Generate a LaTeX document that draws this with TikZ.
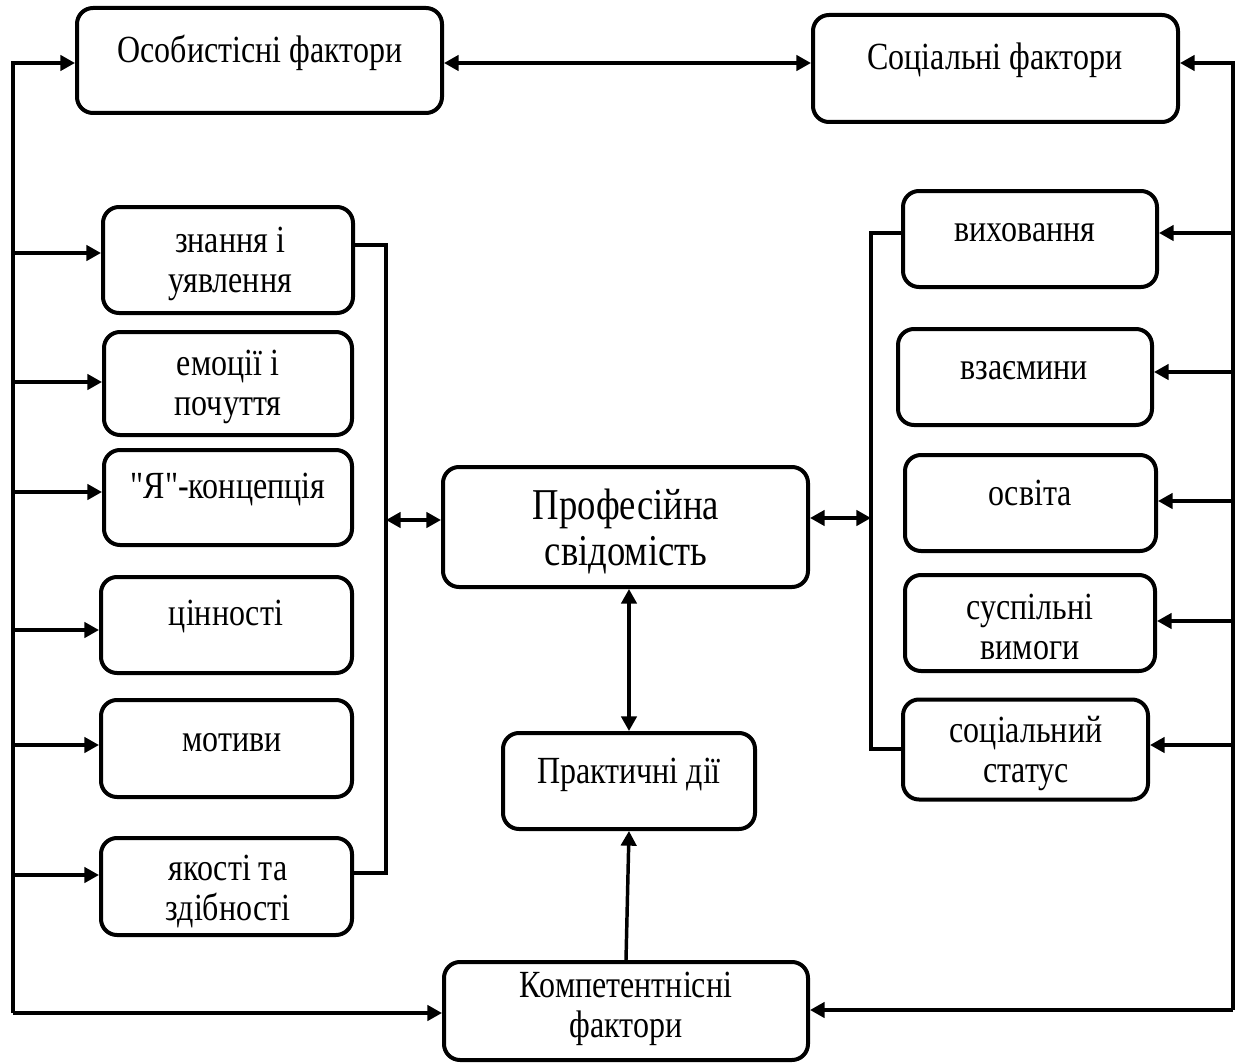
\documentclass[tikz,border=0pt]{standalone}
\usepackage{fontspec}
\usepackage{graphicx}
\setmainfont{Liberation Serif}
\usetikzlibrary{arrows.meta}

\newcommand{\tall}[1]{\scalebox{1}[1.2]{\begin{tabular}{@{}c@{}}#1\end{tabular}}}

\tikzset{every picture/.style={line width=0.75pt}}
\tikzset{
  box/.style={draw, line width=3pt, rounded corners=12pt, inner sep=0pt},
  txt/.style={align=center, font=\fontsize{24}{25}\selectfont, inner sep=0pt},
  bigtxt/.style={align=center, font=\fontsize{27.5}{28.75}\selectfont, inner sep=0pt},
  conn/.style={line width=2.6pt},
  brk/.style={line width=2.3pt},
  tip/.style={-{Triangle[length=11pt,width=11.5pt]}},
  both/.style={{Triangle[length=11pt,width=11.5pt]}-{Triangle[length=11pt,width=11.5pt]}},
}

\begin{document}
\begin{tikzpicture}[x=0.75pt,y=0.75pt,yscale=-1,xscale=1]
	\useasboundingbox (0,0) rectangle (1236,1063);

	%Rounded Rect [id:osob] 
	\node [box, minimum width=273.75pt, minimum height=78.75pt] (osob) at (259.5,60.5) {};
	%Rounded Rect [id:soc] 
	\node [box, minimum width=273.75pt, minimum height=80.25pt] (soc) at (995.5,68.5) {};
	%Rounded Rect [id:znan] 
	\node [box, minimum width=187.5pt, minimum height=79.5pt] (znan) at (228,260) {};
	%Rounded Rect [id:emoc] 
	\node [box, minimum width=186pt, minimum height=77.25pt] (emoc) at (228,383.5) {};
	%Rounded Rect [id:ya] 
	\node [box, minimum width=186pt, minimum height=71.25pt] (ya) at (228,497.5) {};
	%Rounded Rect [id:tsin] 
	\node [box, minimum width=188.25pt, minimum height=72pt] (tsin) at (226.5,625) {};
	%Rounded Rect [id:motyv] 
	\node [box, minimum width=188.25pt, minimum height=72.75pt] (motyv) at (226.5,748.5) {};
	%Rounded Rect [id:yakist] 
	\node [box, minimum width=188.25pt, minimum height=72.75pt] (yakist) at (226.5,886.5) {};
	%Rounded Rect [id:prof] 
	\node [box, minimum width=273.75pt, minimum height=90pt] (prof) at (625.5,527) {};
	%Rounded Rect [id:prak] 
	\node [box, minimum width=189pt, minimum height=72pt] (prak) at (629,781) {};
	%Rounded Rect [id:komp] 
	\node [box, minimum width=273pt, minimum height=73.5pt] (komp) at (626,1011) {};
	%Rounded Rect [id:vyh] 
	\node [box, minimum width=190.5pt, minimum height=72pt] (vyh) at (1030,239) {};
	%Rounded Rect [id:vzaem] 
	\node [box, minimum width=190.5pt, minimum height=72pt] (vzaem) at (1025,377) {};
	%Rounded Rect [id:osvita] 
	\node [box, minimum width=188.25pt, minimum height=72pt] (osvita) at (1030.5,503) {};
	%Rounded Rect [id:susp] 
	\node [box, minimum width=187.5pt, minimum height=72pt] (susp) at (1030,623) {};
	%Rounded Rect [id:sots] 
	\node [box, minimum width=183.75pt, minimum height=75pt] (sots) at (1025.5,749.5) {};

	%Straight Lines [id:left] 
	\coordinate (lt) at (13,63);
	\coordinate (lb) at (13,1013);
	\draw [conn, tip] (lb) -- (lt) -- (lt -| osob.west);
	\draw [conn, tip] (lb) -- (lb -| komp.west);
	%Straight Lines [id:right] 
	\coordinate (rt) at (1233,63);
	\coordinate (rb) at (1233,1010);
	\draw [conn, tip] (rb) -- (rt) -- (rt -| soc.east);
	\draw [conn, tip] (rb) -- (rb -| komp.east);
	%Straight Lines [id:top] 
	\draw [conn, both] (lt -| osob.east) -- (lt -| soc.west);

	%Straight Lines [id:l1] 
	\coordinate (l1) at (13,253);
	\draw [conn, tip] (l1) -- (l1 -| znan.west);
	%Straight Lines [id:l2] 
	\coordinate (l2) at (13,382);
	\draw [conn, tip] (l2) -- (l2 -| emoc.west);
	%Straight Lines [id:l3] 
	\coordinate (l3) at (13,492);
	\draw [conn, tip] (l3) -- (l3 -| ya.west);
	%Straight Lines [id:l4] 
	\coordinate (l4) at (13,630);
	\draw [conn, tip] (l4) -- (l4 -| tsin.west);
	%Straight Lines [id:l5] 
	\coordinate (l5) at (13,745);
	\draw [conn, tip] (l5) -- (l5 -| motyv.west);
	%Straight Lines [id:l6] 
	\coordinate (l6) at (13,875);
	\draw [conn, tip] (l6) -- (l6 -| yakist.west);

	%Straight Lines [id:r1] 
	\coordinate (r1) at (1233,233);
	\draw [conn, tip] (r1) -- (r1 -| vyh.east);
	%Straight Lines [id:r2] 
	\coordinate (r2) at (1233,372);
	\draw [conn, tip] (r2) -- (r2 -| vzaem.east);
	%Straight Lines [id:r3] 
	\coordinate (r3) at (1233,501);
	\draw [conn, tip] (r3) -- (r3 -| osvita.east);
	%Straight Lines [id:r4] 
	\coordinate (r4) at (1233,621);
	\draw [conn, tip] (r4) -- (r4 -| susp.east);
	%Straight Lines [id:r5] 
	\coordinate (r5) at (1233,745);
	\draw [conn, tip] (r5) -- (r5 -| sots.east);

	%Bracket Lines [id:lbrk] 
	\coordinate (lbt) at (386,245);
	\coordinate (lbb) at (386,873);
	\coordinate (lbm) at (386,520);
	\draw [brk] (lbt -| znan.east) -- (lbt) -- (lbb) -- (lbb -| yakist.east);
	\draw [conn, both] (lbm) -- (lbm -| prof.west);
	%Bracket Lines [id:rbrk] 
	\coordinate (rbt) at (871,233);
	\coordinate (rbb) at (871,749);
	\coordinate (rbm) at (871,518);
	\draw [brk] (rbt -| vyh.west) -- (rbt) -- (rbb) -- (rbb -| sots.west);
	\draw [conn, both] (rbm -| prof.east) -- (rbm);

	%Straight Lines [id:mid] 
	\draw [conn, both] (prak.north |- prof.south) -- (prak.north);
	\draw [conn, tip] (komp.north) -- (prak.south);

	% Text Node
	\node [txt] (osob-t) at (260,55) {\tall{Особистісні фактори}};
	% Text Node
	\node [txt] (soc-t) at (995,62) {\tall{Соціальні фактори}};
	% Text Node
	\node [txt] (znan-t) at (230,264) {\tall{знання і\\уявлення}};
	% Text Node
	\node [txt] (emoc-t) at (228,387) {\tall{емоції і\\почуття}};
	% Text Node
	\node [txt] (ya-t) at (228,490) {\tall{\textquotedbl Я\textquotedbl-концепція}};
	% Text Node
	\node [txt] (tsin-t) at (226,617) {\tall{цінності}};
	% Text Node
	\node [txt] (motyv-t) at (232,743) {\tall{мотиви}};
	% Text Node
	\node [txt] (yakist-t) at (228,892) {\tall{якості та\\здібності}};
	% Text Node
	\node [bigtxt] (prof-t) at (626,533) {\tall{Професійна\\свідомість}};
	% Text Node
	\node [txt] (prak-t) at (629,775) {\tall{Практичні дії}};
	% Text Node
	\node [txt] (komp-t) at (626,1009) {\tall{Компетентнісні\\фактори}};
	% Text Node
	\node [txt] (vyh-t) at (1025,233) {\tall{виховання}};
	% Text Node
	\node [txt] (vzaem-t) at (1024,371) {\tall{взаємини}};
	% Text Node
	\node [txt] (osvita-t) at (1030,497) {\tall{освіта}};
	% Text Node
	\node [txt] (susp-t) at (1030,631) {\tall{суспільні\\вимоги}};
	% Text Node
	\node [txt] (sots-t) at (1026,754) {\tall{соціальний\\статус}};

\end{tikzpicture}
\end{document}
